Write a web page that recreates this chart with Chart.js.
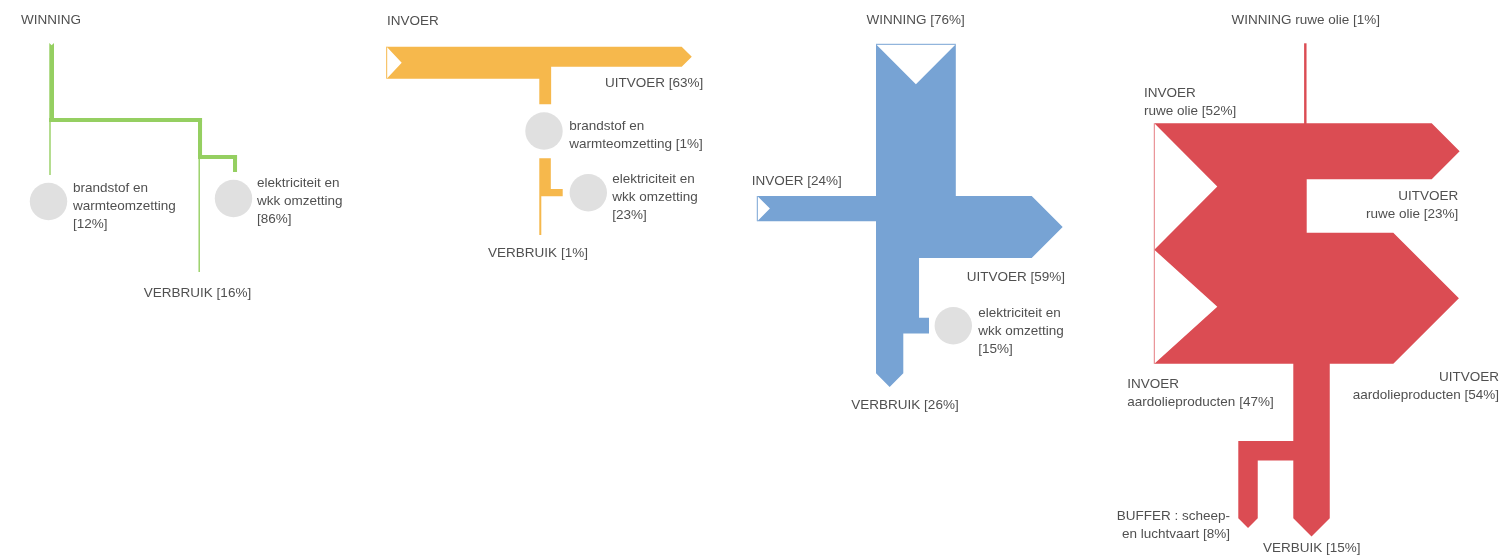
<!DOCTYPE html>
<html>
<head>
<meta charset="utf-8">
<script src="https://cdn.jsdelivr.net/npm/chart.js@4"></script>
<style>
  body { margin: 0; background: #fff; }
  #wrap { width: 1510px; height: 555px; }
</style>
</head>
<body>
<div id="wrap"><canvas id="flows"></canvas></div>
<script>
// aardgas: winning
var winningLabels = ['brandstof en\nwarmteomzetting', 'elektriciteit en\nwkk omzetting', 'VERBRUIK'];
var winningPct = [12, 86, 16];
// aardgas: invoer
var invoerLabels = ['UITVOER', 'brandstof en\nwarmteomzetting', 'elektriciteit en\nwkk omzetting', 'VERBRUIK'];
var invoerPct = [63, 1, 23, 1];
// gasbalans
var gasLabels = ['WINNING', 'INVOER', 'UITVOER', 'elektriciteit en\nwkk omzetting', 'VERBRUIK'];
var gasPct = [76, 24, 59, 15, 26];
// olie
var olieLabels = ['WINNING ruwe olie', 'INVOER\nruwe olie', 'INVOER\naardolieproducten', 'UITVOER\nruwe olie', 'UITVOER\naardolieproducten', 'BUFFER : scheep-\nen luchtvaart', 'VERBUIK'];
var oliePct = [1, 52, 47, 23, 54, 8, 15];
var panelTitles = ['WINNING', 'INVOER'];

var colors = { green: '#95cf61', orange: '#f6b84c', blue: '#77a3d4', red: '#db4c53' };

function pct(v) { return '[' + v + '%]'; }
function rect(x0, y0, x1, y1) { return [[x0, y0], [x1, y0], [x1, y1], [x0, y1]]; }

var shapes = [];
var edges = [];

// --- groen
var kG = 0.047;
function gw(p) { return Math.max(p * kG, 1.4); }
var gTot = 100 * kG, gEl = gw(winningPct[1]), gBr = gw(winningPct[0]), gVb = gw(winningPct[2]);
var gx = 49.3, gTop = 43, gBar = 118, gRx = 198, gSplit = 155, gElX = 233;
shapes.push({ c: colors.green, p: [[gx, gTop], [gx + gTot / 2, gTop + gTot / 2], [gx + gTot, gTop], [gx + gTot, gBar + gEl], [gx, gBar + gEl]] });
shapes.push({ c: colors.green, p: rect(gx, gBar, gRx + gEl, gBar + gEl) });
shapes.push({ c: colors.green, p: rect(gx, gBar, gx + gBr, 175) });
shapes.push({ c: colors.green, p: rect(gRx, gBar, gRx + gEl, gSplit + gEl) });
shapes.push({ c: colors.green, p: rect(gRx, gSplit, gElX + gEl, gSplit + gEl) });
shapes.push({ c: colors.green, p: rect(gElX, gSplit, gElX + gEl, 172) });
shapes.push({ c: colors.green, p: rect(gRx + 0.5, gSplit, gRx + 0.5 + gVb, 272) });

// --- oranje
var kO = 0.32;
var oTot = 100 * kO, oOut = invoerPct[0] * kO, oBr = oTot - oOut, oLow = oBr - invoerPct[1] * kO;
var oEl = invoerPct[2] * kO, oVb = Math.max(invoerPct[3] * kO, 2);
var ox = 386.7, oTop = 46.7, oNotch = 15, oBrX = 539.3, oOutX = 681.7;
shapes.push({ c: colors.orange, p: [[ox, oTop], [oOutX, oTop], [oOutX + oOut / 2, oTop + oOut / 2], [oOutX, oTop + oOut],
  [oBrX + oBr, oTop + oOut], [oBrX + oBr, 104.3], [oBrX, 104.3], [oBrX, oTop + oTot], [ox, oTop + oTot], [ox + oNotch, oTop + oTot / 2]] });
shapes.push({ c: colors.orange, p: [[oBrX, 158.3], [oBrX + oLow, 158.3], [oBrX + oLow, 189], [562.7, 189], [562.7, 189 + oEl],
  [oBrX + oVb, 189 + oEl], [oBrX + oVb, 235], [oBrX, 235]] });
edges.push({ c: colors.orange, p: [[ox, oTop], [ox, oTop + oTot]] });

// --- blauw
var kB = 1.05;
var bWin = gasPct[0] * kB, bIn = gasPct[1] * kB, bOut = gasPct[2] * kB, bEl = gasPct[3] * kB, bVb = gasPct[4] * kB;
var bx = 876, bTop = 44.3, bInY = 196, bInX = 757.3, bOutX = 1031.7, bSideY = 317.7, bCircX = 929, bEnd = 373.3;
shapes.push({ c: colors.blue, p: [[bx, bTop], [bx + bWin / 2, bTop + bWin / 2], [bx + bWin, bTop], [bx + bWin, bInY],
  [bOutX, bInY], [bOutX + bOut / 2, bInY + bOut / 2], [bOutX, bInY + bOut], [bx + bVb + bEl, bInY + bOut],
  [bx + bVb + bEl, bSideY], [bCircX, bSideY], [bCircX, bSideY + bEl], [bx + bVb, bSideY + bEl],
  [bx + bVb, bEnd], [bx + bVb / 2, bEnd + bVb / 2], [bx, bEnd], [bx, bInY + bIn], [bInX, bInY + bIn],
  [bInX + bIn / 2, bInY + bIn / 2], [bInX, bInY], [bx, bInY]] });
edges.push({ c: colors.blue, p: [[bx, bTop], [bx + bWin, bTop]] });
edges.push({ c: colors.blue, p: [[bInX, bInY], [bInX, bInY + bIn]] });

// --- rood
var kR = 2.43;
var rWin = oliePct[0] * kR, rIn1 = oliePct[1] * kR, rIn2 = oliePct[2] * kR, rOut1 = oliePct[3] * kR;
var rOut2 = oliePct[4] * kR, rBuf = oliePct[5] * kR, rVb = oliePct[6] * kR;
var rx = 1154.3, rTop = 123.3, rNotch = 63, rMidX = 1306.7, rOut1X = 1431.7, rOut2X = 1393.3;
var rColX = 1293.3, rBufX = 1238.3, rBufY = 441, rEnd = 518.3;
var rBot = rTop + rIn1 + rIn2;
shapes.push({ c: colors.red, p: rect(1304.1, 43.3, 1304.1 + rWin, rTop + 1) });
shapes.push({ c: colors.red, p: [[rx, rTop], [rOut1X, rTop], [rOut1X + rOut1 / 2, rTop + rOut1 / 2], [rOut1X, rTop + rOut1],
  [rMidX, rTop + rOut1], [rMidX, rBot - rOut2], [rOut2X, rBot - rOut2], [rOut2X + rOut2 / 2, rBot - rOut2 / 2], [rOut2X, rBot],
  [rColX + rVb, rBot], [rColX + rVb, rEnd], [rColX + rVb / 2, rEnd + rVb / 2], [rColX, rEnd], [rColX, rBufY + rBuf],
  [rBufX + rBuf, rBufY + rBuf], [rBufX + rBuf, rEnd], [rBufX + rBuf / 2, rEnd + rBuf / 2], [rBufX, rEnd], [rBufX, rBufY],
  [rColX, rBufY], [rColX, rBot], [rx, rBot], [rx + rNotch, rBot - rIn2 / 2], [rx, rTop + rIn1], [rx + rNotch, rTop + rIn1 / 2]] });
edges.push({ c: '#e57c81', p: [[rx, rTop], [rx, rBot]] });

// --- teksten
var texts = [
  { t: panelTitles[0], x: 21, y: 20.7, a: 'left' },
  { t: winningLabels[0] + '\n' + pct(winningPct[0]), x: 73, y: 188, a: 'left' },
  { t: winningLabels[1] + '\n' + pct(winningPct[1]), x: 257, y: 183, a: 'left' },
  { t: winningLabels[2] + ' ' + pct(winningPct[2]), x: 197.5, y: 293, a: 'center' },

  { t: panelTitles[1], x: 387, y: 21, a: 'left' },
  { t: invoerLabels[0] + ' ' + pct(invoerPct[0]), x: 703.3, y: 83.3, a: 'right' },
  { t: invoerLabels[1] + ' ' + pct(invoerPct[1]), x: 569.3, y: 126.7, a: 'left' },
  { t: invoerLabels[2] + '\n' + pct(invoerPct[2]), x: 612.3, y: 179, a: 'left' },
  { t: invoerLabels[3] + ' ' + pct(invoerPct[3]), x: 538, y: 253.3, a: 'center' },

  { t: gasLabels[0] + ' ' + pct(gasPct[0]), x: 915.7, y: 20.7, a: 'center' },
  { t: gasLabels[1] + ' ' + pct(gasPct[1]), x: 751.7, y: 181.7, a: 'left' },
  { t: gasLabels[2] + ' ' + pct(gasPct[2]), x: 1065, y: 277.3, a: 'right' },
  { t: gasLabels[3] + '\n' + pct(gasPct[3]), x: 978.3, y: 313.3, a: 'left' },
  { t: gasLabels[4] + ' ' + pct(gasPct[4]), x: 905, y: 405, a: 'center' },

  { t: olieLabels[0] + ' ' + pct(oliePct[0]), x: 1305.7, y: 20.7, a: 'center' },
  { t: olieLabels[1] + ' ' + pct(oliePct[1]), x: 1144, y: 93.3, a: 'left' },
  { t: olieLabels[2] + ' ' + pct(oliePct[2]), x: 1127.3, y: 384, a: 'left' },
  { t: olieLabels[3] + ' ' + pct(oliePct[3]), x: 1458.3, y: 196.7, a: 'right' },
  { t: olieLabels[4] + ' ' + pct(oliePct[4]), x: 1499, y: 377.3, a: 'right' },
  { t: olieLabels[5] + ' ' + pct(oliePct[5]), x: 1230, y: 516.7, a: 'right' },
  { t: olieLabels[6] + ' ' + pct(oliePct[6]), x: 1311.7, y: 548.3, a: 'center' }
];

// omzettingsknopen (grijze cirkels)
var nodes = [{ x: 48.5, y: 201.5 }, { x: 233.5, y: 198.5 }, { x: 544, y: 131 }, { x: 588.3, y: 192.7 }, { x: 953.3, y: 325.7 }];

var flowPlugin = {
  id: 'flows',
  beforeDatasetsDraw: function(chart) {
    var ctx = chart.ctx, sx = chart.scales.x, sy = chart.scales.y;
    ctx.save();
    shapes.forEach(function(s) {
      ctx.beginPath();
      s.p.forEach(function(pt, i) {
        var px = sx.getPixelForValue(pt[0]), py = sy.getPixelForValue(pt[1]);
        if (i === 0) ctx.moveTo(px, py); else ctx.lineTo(px, py);
      });
      ctx.closePath();
      ctx.fillStyle = s.c;
      ctx.fill();
    });
    edges.forEach(function(e) {
      ctx.beginPath();
      ctx.moveTo(sx.getPixelForValue(e.p[0][0]), sy.getPixelForValue(e.p[0][1]));
      ctx.lineTo(sx.getPixelForValue(e.p[1][0]), sy.getPixelForValue(e.p[1][1]));
      ctx.strokeStyle = e.c;
      ctx.lineWidth = 1;
      ctx.stroke();
    });
    ctx.restore();
  },
  afterDatasetsDraw: function(chart) {
    var ctx = chart.ctx, sx = chart.scales.x, sy = chart.scales.y;
    ctx.save();
    ctx.font = '13.5px "Liberation Sans", Arial, sans-serif';
    ctx.fillStyle = '#505050';
    ctx.textBaseline = 'middle';
    texts.forEach(function(l) {
      ctx.textAlign = l.a;
      l.t.split('\n').forEach(function(line, i) {
        ctx.fillText(line, sx.getPixelForValue(l.x), sy.getPixelForValue(l.y + i * 18));
      });
    });
    ctx.restore();
  }
};

var chart = new Chart(document.getElementById('flows'), {
  type: 'scatter',
  data: {
    datasets: [{
      label: 'omzetting',
      data: nodes,
      pointRadius: 18.7,
      pointHoverRadius: 18.7,
      pointBackgroundColor: '#e0e0e0',
      pointBorderWidth: 0,
      borderWidth: 0,
      clip: false
    }]
  },
  options: {
    responsive: true,
    maintainAspectRatio: false,
    animation: false,
    events: [],
    layout: { padding: 0, autoPadding: false },
    scales: {
      x: { type: 'linear', min: 0, max: 1510, display: false },
      y: { type: 'linear', min: 0, max: 555, reverse: true, display: false }
    },
    plugins: { legend: { display: false }, tooltip: { enabled: false } }
  },
  plugins: [flowPlugin]
});
</script>
</body>
</html>
